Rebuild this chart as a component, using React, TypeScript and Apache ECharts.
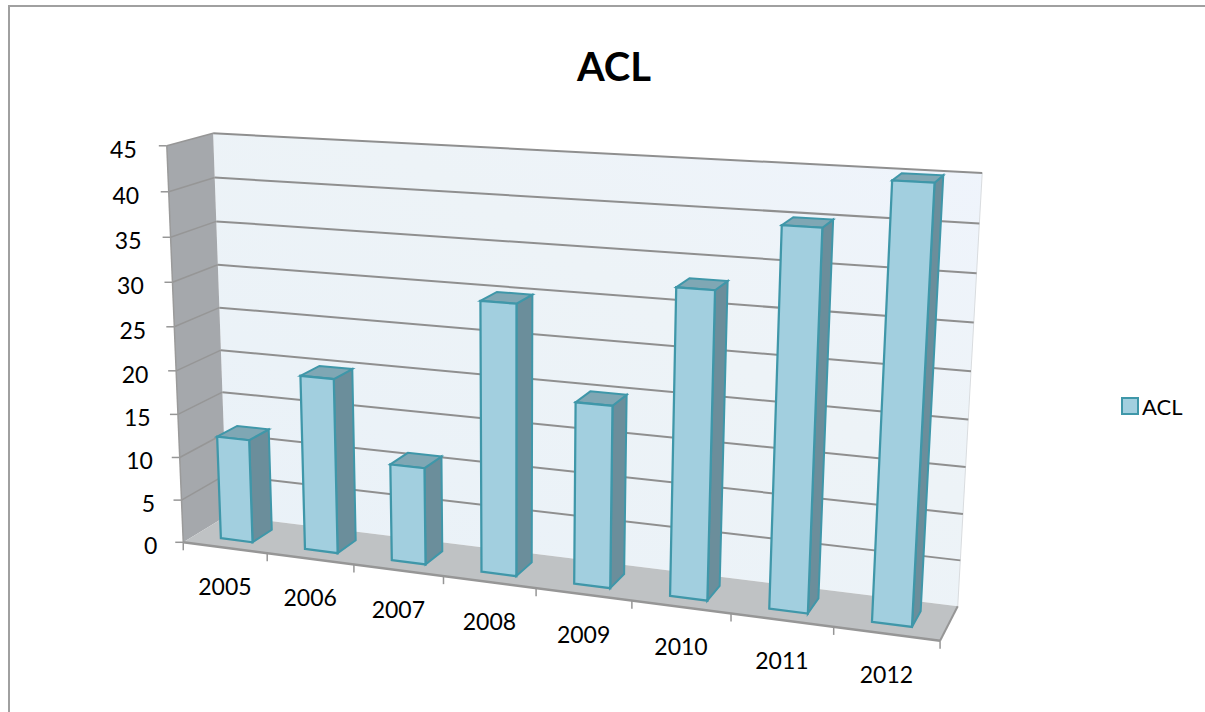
import React, { useEffect, useRef } from "react";
import * as echarts from "echarts";

const categories = ["2005", "2006", "2007", "2008", "2009", "2010", "2011", "2012"];
const values = [12, 20, 11, 30, 20, 33, 40, 45];
const yTicks = [0, 5, 10, 15, 20, 25, 30, 35, 40, 45];
const seriesName = "ACL";

const FONT = "Lato";
const Y_MAX = 45;
const N = categories.length;
const GRID_W = 800;
const GRID_H = 450;

// Camera: world (x 0..1, y 0..1, z 0..1) to picture points, fitted from the box corners.
const anchors: number[][] = [
  [0, 0, 0, 186, 541],
  [1, 0, 0, 940, 642],
  [0, 1, 0, 164, 146],
  [0, 0, 1, 224, 517],
  [1, 0, 1, 958, 605],
  [0, 1, 1, 216, 133],
  [1, 1, 1, 982, 173],
];

function fitCamera(pts: number[][]): number[] {
  const rows: number[][] = [];
  const rhs: number[] = [];
  for (const [x, y, z, u, v] of pts) {
    rows.push([x, y, z, 1, 0, 0, 0, 0, -u * x, -u * y, -u * z]);
    rhs.push(u);
    rows.push([0, 0, 0, 0, x, y, z, 1, -v * x, -v * y, -v * z]);
    rhs.push(v);
  }
  const n = 11;
  const A = Array.from({ length: n }, () => new Array(n + 1).fill(0));
  rows.forEach((r, k) => {
    for (let i = 0; i < n; i++) {
      for (let j = 0; j < n; j++) A[i][j] += r[i] * r[j];
      A[i][n] += r[i] * rhs[k];
    }
  });
  for (let c = 0; c < n; c++) {
    let p = c;
    for (let r = c + 1; r < n; r++) if (Math.abs(A[r][c]) > Math.abs(A[p][c])) p = r;
    [A[c], A[p]] = [A[p], A[c]];
    for (let r = 0; r < n; r++) {
      if (r === c) continue;
      const f = A[r][c] / A[c][c];
      for (let j = c; j <= n; j++) A[r][j] -= f * A[c][j];
    }
  }
  return A.map((r, i) => r[n] / r[i]);
}
const cam = fitCamera(anchors);

function project(x: number, y: number, z: number): number[] {
  const w = cam[8] * x + cam[9] * y + cam[10] * z + 1;
  return [
    (cam[0] * x + cam[1] * y + cam[2] * z + cam[3]) / w,
    (cam[4] * x + cam[5] * y + cam[6] * z + cam[7]) / w,
  ];
}

// Reads the library's hidden axes, so marks follow its scales.
function world(api: any, cat: number, val: number, dx: number, z: number): number[] {
  const p = api.coord([cat, val]);
  return project((p[0] + dx * (GRID_W / N)) / GRID_W, 1 - p[1] / GRID_H, z);
}

const BAR_HALF = 0.19;
const Z0 = 0.27;
const Z1 = 0.73;

const poly = (points: number[][], fill: any, stroke?: string, lineWidth = 0) => ({
  type: "polygon",
  shape: { points },
  style: { fill, stroke: stroke || "none", lineWidth },
  silent: true,
});
const seg = (a: number[], b: number[], stroke: string, lineWidth: number) => ({
  type: "line",
  shape: { x1: a[0], y1: a[1], x2: b[0], y2: b[1] },
  style: { stroke, lineWidth },
  silent: true,
});

function renderScene(_: any, api: any) {
  const children: any[] = [];
  const yv = (v: number, x: number, z: number) => {
    const p = api.coord([0, v]);
    return project(x, 1 - p[1] / GRID_H, z);
  };
  children.push(
    poly(
      [yv(0, 0, 1), yv(0, 1, 1), yv(Y_MAX, 1, 1), yv(Y_MAX, 0, 1)],
      new echarts.graphic.LinearGradient(0, 1, 1, 0, [
        { offset: 0, color: "#E9F1F8" },
        { offset: 0.6, color: "#EDF3F7" },
        { offset: 1, color: "#EFF4FC" },
      ])
    )
  );
  children.push(poly([yv(0, 0, 0), yv(0, 0, 1), yv(Y_MAX, 0, 1), yv(Y_MAX, 0, 0)], "#A5A8AC"));
  children.push(poly([yv(0, 0, 0), yv(0, 1, 0), yv(0, 1, 1), yv(0, 0, 1)], "#BFC2C4"));
  // right wall edge, very light
  children.push(seg(yv(0, 1, 1), yv(Y_MAX, 1, 1), "#D9DCDF", 1));
  yTicks.forEach((v) => {
    if (v > 0) {
      children.push(seg(yv(v, 0, 1), yv(v, 1, 1), "#8F8F8F", 2));
      children.push(seg(yv(v, 0, 0), yv(v, 0, 1), "#969696", 1.5));
    }
    const f = yv(v, 0, 0);
    children.push(seg([f[0] - 8, f[1]], f, "#969696", 1.5));
    children.push({
      type: "text",
      silent: true,
      style: {
        text: String(v),
        x: f[0] - 26 - (4 * v) / Y_MAX,
        y: f[1] + 3,
        align: "right",
        verticalAlign: "middle",
        fontFamily: FONT,
        fontSize: 23,
        fill: "#000000",
      },
    });
  });
  children.push(seg(yv(0, 0, 0), yv(Y_MAX, 0, 0), "#9A9A9A", 1.5));
  children.push(seg(yv(0, 0, 0), yv(0, 1, 0), "#969696", 2.5));
  children.push(seg(yv(0, 1, 0), yv(0, 1, 1), "#969696", 2));
  for (let i = 0; i <= N; i++) {
    const t = yv(0, i / N, 0);
    children.push(seg(t, [t[0], t[1] + 8], "#969696", 1.5));
  }
  categories.forEach((c, i) => {
    const t = yv(0, (i + 0.5) / N, 0);
    children.push({
      type: "text",
      silent: true,
      style: {
        text: c,
        x: t[0],
        y: t[1] + 38 + (2 * i) / (N - 1),
        align: "center",
        verticalAlign: "middle",
        fontFamily: FONT,
        fontSize: 23,
        fill: "#000000",
      },
    });
  });
  return { type: "group", children };
}

function renderBar(_: any, api: any) {
  const cat = api.value(0);
  const val = api.value(1);
  const P = (dx: number, v: number, z: number) => world(api, cat, v, dx, z);
  const fbl = P(-BAR_HALF, 0, Z0);
  const fbr = P(BAR_HALF, 0, Z0);
  const ftl = P(-BAR_HALF, val, Z0);
  const ftr = P(BAR_HALF, val, Z0);
  const bbr = P(BAR_HALF, 0, Z1);
  const btr = P(BAR_HALF, val, Z1);
  const btl = P(-BAR_HALF, val, Z1);
  const edge = "#3F97A9";
  return {
    type: "group",
    children: [
      poly([fbr, bbr, btr, ftr], "#6B8E9B", edge, 2),
      poly([ftl, ftr, btr, btl], "#7FA7B4", edge, 2),
      poly([fbl, fbr, ftr, ftl], "#A2CFDF", edge, 2.25),
    ],
  };
}

export default function App() {
  const ref = useRef<HTMLDivElement>(null);
  useEffect(() => {
    const chart = echarts.init(ref.current!, undefined, { renderer: "svg" });
    chart.setOption({
      animation: false,
      backgroundColor: "#FFFFFF",
      title: {
        text: seriesName,
        left: 609,
        top: 41,
        textAlign: "center",
        textStyle: { fontFamily: FONT, fontSize: 40, fontWeight: "bold", color: "#000000" },
      },
      legend: {
        data: [{ name: seriesName, icon: "rect" }],
        left: 1116,
        top: 390,
        itemWidth: 16,
        itemHeight: 16,
        itemGap: 4,
        textStyle: { fontFamily: FONT, fontSize: 22, color: "#000000", padding: [0, 0, 0, -1] },
      },
      grid: { left: 0, top: 0, width: GRID_W, height: GRID_H, show: false },
      xAxis: { type: "category", data: categories, show: false },
      yAxis: { type: "value", min: 0, max: Y_MAX, interval: 5, show: false },
      graphic: [
        {
          type: "rect",
          silent: true,
          shape: { x: 9, y: 6, width: 1220, height: 730 },
          style: { fill: "none", stroke: "#A0A0A0", lineWidth: 2 },
        },
      ],
      series: [
        {
          type: "custom",
          name: "scene",
          silent: true,
          clip: false,
          z: 1,
          renderItem: renderScene,
          data: [[0, 0]],
          encode: { x: 0, y: 1 },
        },
        {
          type: "custom",
          name: seriesName,
          silent: true,
          clip: false,
          z: 2,
          itemStyle: { color: "#A2CFDF", borderColor: "#3F97A9", borderWidth: 2 },
          renderItem: renderBar,
          data: values.map((v, i) => [i, v]),
          encode: { x: 0, y: 1 },
        },
      ],
    });
    return () => chart.dispose();
  }, []);
  return (
    <div
      ref={ref}
      style={{ position: "fixed", left: 0, top: 0, width: 1205, height: 712, fontFamily: FONT }}
    />
  );
}
